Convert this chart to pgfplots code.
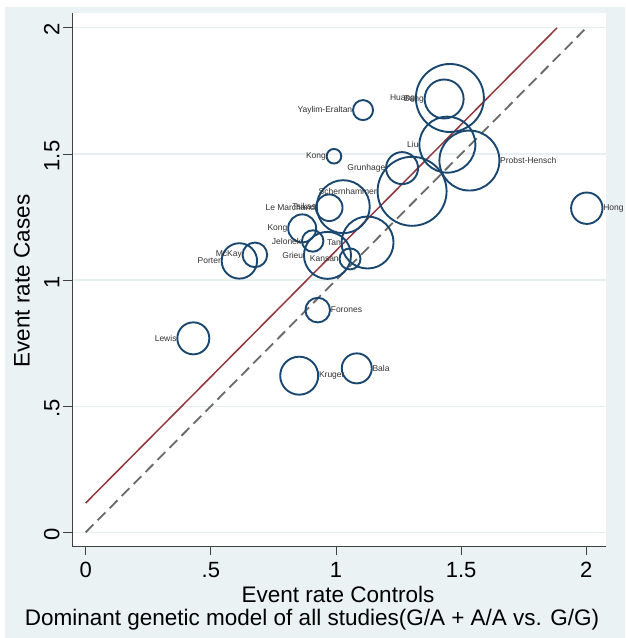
\documentclass[border=0pt]{standalone}
\usepackage{pgfplots}
\pgfplotsset{compat=1.18}
\usepackage{pgfplotstable}
\usepackage{fontspec}
\setmainfont{Liberation Sans}
\definecolor{bgblue}{RGB}{234,242,243}
\definecolor{gridc}{RGB}{232,239,241}
\definecolor{stnavy}{RGB}{26,71,111}
\definecolor{stmaroon}{RGB}{144,53,59}
\definecolor{dashgray}{RGB}{105,105,105}
\definecolor{labgray}{RGB}{50,50,50}

\pgfplotstableread[col sep=comma]{
x,y,r,label
1.108,1.674,10,Yaylim-Eraltan
1.455,1.722,34,Huang
1.432,1.718,19.5,Bang
1.445,1.537,28,Liu
0.992,1.491,7.3,Kong
1.264,1.444,16,Grunhage
1.304,1.352,34.5,Schernhammer
1.029,1.291,26.5,Tsikas
0.973,1.287,13.3,Le Marchand
0.865,1.205,14,Kong
0.907,1.155,10.7,Jelonek
1.126,1.149,26,Tan
0.966,1.098,23.5,Grieu
1.056,1.084,10.5,Kansan
0.676,1.100,12.3,McKay
0.614,1.076,17.7,Porter
0.430,0.769,16,Lewis
}\leftdata
\pgfplotstableread[col sep=comma]{
x,y,r,label
1.533,1.474,30,Probst-Hensch
0.927,0.881,12.3,Forones
0.853,0.621,19,Kruger
1.083,0.650,15,Bala
2.002,1.285,15.7,Hong
}\rightdata

\begin{document}
\begin{tikzpicture}
\fill[white] (0,0) rectangle (625pt,638pt);
\fill[bgblue] (5pt,0) rectangle (625pt,631pt);
\begin{axis}[
  at={(72pt,92pt)}, anchor=south west,
  scale only axis, width=534pt, height=533pt,
  xmin=-0.0547, xmax=2.0787, ymin=-0.0543, ymax=2.059,
  axis x line*=bottom, axis y line*=left,
  axis line style={black!75, line width=0.8pt, -},
  axis background/.style={fill=white},
  xtick={0,0.5,1,1.5,2}, xticklabels={0,.5,1,1.5,2},
  ytick={0,0.5,1,1.5,2}, yticklabels={0,.5,1,1.5,2},
  tick align=outside, major tick length=9pt,
  tick style={black!75, line width=0.8pt},
  ymajorgrids, grid style={gridc, line width=1.2pt},
  /pgf/number format/assume math mode=true,
  ticklabel style={font=\fontsize{22}{26}\selectfont},
  xticklabel style={yshift=-4pt},
  yticklabel style={rotate=90, anchor=south, xshift=-2pt},
  clip=false,
]
\addplot[scatter, only marks, mark=o,
  scatter/use mapped color={draw=stnavy},
  mark options={line width=1.9pt},
  visualization depends on={\thisrow{r}\as\rad},
  scatter/@pre marker code/.append style={/tikz/mark size=\rad pt}]
  table[x=x,y=y]{\leftdata};
\addplot[scatter, only marks, mark=o,
  scatter/use mapped color={draw=stnavy},
  mark options={line width=1.9pt},
  visualization depends on={\thisrow{r}\as\rad},
  scatter/@pre marker code/.append style={/tikz/mark size=\rad pt}]
  table[x=x,y=y]{\rightdata};
\addplot[only marks, mark=none, point meta=explicit symbolic,
  visualization depends on={\thisrow{r}\as\rad},
  nodes near coords,
  nodes near coords style={anchor=east, xshift=-\rad pt-0.6pt, inner sep=0pt,
    font=\fontsize{8.5}{10}\selectfont, text=labgray}]
  table[x=x,y=y,meta=label]{\leftdata};
\addplot[only marks, mark=none, point meta=explicit symbolic,
  visualization depends on={\thisrow{r}\as\rad},
  nodes near coords,
  nodes near coords style={anchor=west, xshift=\rad pt+0.6pt, inner sep=0pt,
    font=\fontsize{8.5}{10}\selectfont, text=labgray}]
  table[x=x,y=y,meta=label]{\rightdata};
\addplot[stmaroon, line width=1.5pt] coordinates {(0,0.116) (1.883,2.0)};
\addplot[dashgray, line width=1.8pt, dash pattern=on 11pt off 6pt] coordinates {(0,0) (2,2)};
\end{axis}
\node[font=\fontsize{22.5}{27}\selectfont] at (338pt,44pt) {Event rate Controls};
\node[font=\fontsize{22.5}{27}\selectfont] at (312pt,18pt) {Dominant genetic model of all studies(G/A + A/A vs. G/G)};
\node[rotate=90, font=\fontsize{22.5}{27}\selectfont] at (22pt,357pt) {Event rate Cases};
\pgfresetboundingbox
\path (0,0) rectangle (625pt,638pt);
\end{tikzpicture}
\end{document}
